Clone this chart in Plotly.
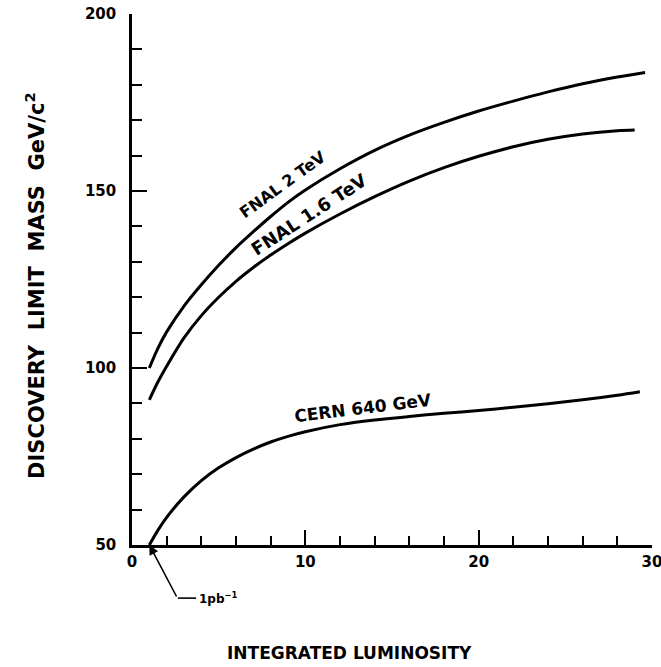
import plotly.graph_objects as go

# Integrated luminosity (pb^-1) and discovery-limit mass (GeV/c^2)
fnal2_lum = [1, 1.5, 2, 3, 4, 5, 6, 7, 8, 9, 10, 12, 14, 16, 18, 20, 22, 24, 26, 28, 29.6]
fnal2_mass = [100, 105.6, 110.2, 117.5, 123.5, 129, 134, 138.5, 142.8, 146.8, 150.3, 156.3,
              161.5, 165.8, 169.4, 172.6, 175.4, 178, 180.3, 182.2, 183.5]

fnal16_lum = [1, 1.5, 2, 3, 4, 5, 6, 7, 8, 9, 10, 12, 14, 16, 18, 20, 22, 24, 26, 28, 29]
fnal16_mass = [91, 96.1, 100.5, 108.5, 114.8, 120, 124.5, 128.4, 131.9, 135.1, 138.1, 143.5,
               148.4, 152.8, 156.6, 159.8, 162.5, 164.6, 166.1, 167, 167.2]

cern_lum = [1, 1.5, 2, 3, 4, 5, 6, 7, 8, 9, 10, 12, 14, 16, 18, 20, 22, 24, 26, 28, 29.3]
cern_mass = [50, 54.2, 57.8, 63.6, 68.2, 71.8, 74.7, 77.1, 79.1, 80.7, 82, 84, 85.3, 86.3,
             87.2, 88, 88.9, 89.9, 91, 92.3, 93.3]

x_ticks = [0, 10, 20, 30]
y_ticks = [50, 100, 150, 200]

FONT = "DejaVu Sans"

fig = go.Figure()
for xs, ys in [(fnal2_lum, fnal2_mass), (fnal16_lum, fnal16_mass), (cern_lum, cern_mass)]:
    fig.add_trace(go.Scatter(
        x=xs, y=ys, mode="lines",
        line=dict(color="black", width=3, shape="spline", smoothing=0.9),
        showlegend=False, hoverinfo="skip", cliponaxis=False,
    ))

# curve labels, written along each curve
labels = [
    ("FNAL 2 TeV", 8.7, 151.8, -36, 16),
    ("FNAL 1.6 TeV", 10.2, 143.5, -33, 18),
    ("CERN 640 GeV", 13.3, 88.6, -7, 17),
]
for text, x, y, ang, size in labels:
    fig.add_annotation(x=x, y=y, text=text, showarrow=False, textangle=ang,
                       font=dict(family=FONT, size=size, color="black", weight="bold"))

# pointer to the 1 pb^-1 starting point
fig.add_annotation(x=1, y=50, ax=28, ay=53, text="", showarrow=True,
                   arrowhead=2, arrowsize=1.2, arrowwidth=1.6, arrowcolor="black")
fig.add_shape(type="line", xref="x", yref="paper", x0=2.65, x1=3.7, y0=-0.1, y1=-0.1,
              line=dict(color="black", width=1.6))
fig.add_annotation(xref="x", yref="paper", x=3.75, y=-0.1, xanchor="left", yanchor="middle",
                   text="1pb<sup>−1</sup>", showarrow=False,
                   font=dict(family=FONT, size=12, color="black", weight="bold"))

# axis titles
NB = "\u00a0"
ytitle = (NB * 2).join(["DISCOVERY", "LIMIT", "MASS", "GeV/c<sup>2</sup>"])
fig.add_annotation(xref="paper", yref="paper", x=-0.1865, y=0.488,
                   xanchor="center", yanchor="middle", textangle=-90,
                   text=ytitle, showarrow=False,
                   font=dict(family=FONT, size=21, color="black", weight="bold"))
fig.add_annotation(xref="paper", yref="paper", x=0.418, y=-0.2034,
                   xanchor="center", yanchor="middle",
                   text="INTEGRATED LUMINOSITY", showarrow=False,
                   font=dict(family=FONT, size=17, color="black", weight="bold"))

fig.update_xaxes(
    range=[0, 30], tickvals=x_ticks, ticktext=[str(v) for v in x_ticks],
    ticks="inside", ticklen=15, tickwidth=2, tickcolor="black",
    minor=dict(dtick=2, tick0=0, ticks="inside", ticklen=9, tickwidth=2, tickcolor="black"),
    showline=True, linewidth=2.5, linecolor="black", showgrid=False, zeroline=False,
    ticklabelstandoff=1, ticklabeloverflow="allow", automargin=False,
    tickfont=dict(family=FONT, size=15, color="black", weight="bold"),
)
fig.update_yaxes(
    range=[50, 200], tickvals=y_ticks, ticktext=[str(v) for v in y_ticks],
    ticks="inside", ticklen=15, tickwidth=2, tickcolor="black",
    minor=dict(dtick=10, tick0=50, ticks="inside", ticklen=10, tickwidth=2, tickcolor="black"),
    showline=True, linewidth=2.5, linecolor="black", showgrid=False, zeroline=False,
    ticklabelstandoff=10, ticklabeloverflow="allow", automargin=False,
    tickfont=dict(family=FONT, size=15, color="black", weight="bold"),
)

fig.update_layout(
    width=661, height=667,
    margin=dict(l=132, r=9, t=14, b=122, autoexpand=False),
    paper_bgcolor="white", plot_bgcolor="white",
    showlegend=False,
)

fig.write_html("out.html")
